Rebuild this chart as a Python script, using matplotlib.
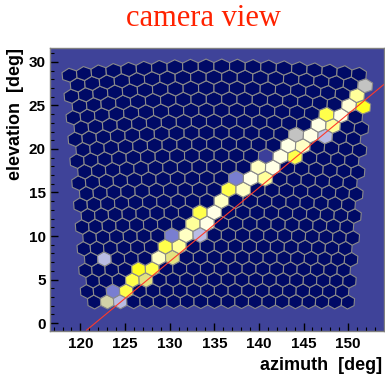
import numpy as np
import matplotlib
matplotlib.use('Agg')
import matplotlib.pyplot as plt
from matplotlib.collections import PolyCollection
from matplotlib.colors import LinearSegmentedColormap
from matplotlib.ticker import MultipleLocator

# camera layout (hexagonal pixels in the tangent plane)
cam_az0, cam_el0 = 135.4, 16.0
pitch_u = 1.57      # spacing along a row (deg)
row_step = 1.31     # spacing between rows (deg)
n_rows, n_cols = 22, 20

# lit pixels: position (deg) and colour level 0..1
hit_az = [151.9, 150.6, 151.7, 149.7, 147.2, 148.7, 148.0, 146.5, 143.9, 147.1,
          145.4, 144.6, 143.1, 143.7, 142.0, 140.5, 141.5, 139.8, 140.3, 138.7,
          137.4, 136.4, 138.3, 135.3, 133.4, 134.7, 133.1, 134.2, 131.9, 133.4,
          130.4, 129.7, 131.2, 129.0, 130.4, 122.8, 126.5, 128.2, 125.8, 127.5,
          125.2, 123.5, 122.8, 124.5]
hit_el = [27.2, 26.0, 24.7, 24.9, 23.9, 23.9, 22.6, 22.6, 21.4, 21.2,
          21.4, 20.3, 20.3, 18.9, 19.1, 19.1, 17.8, 17.8, 16.6, 16.6,
          16.6, 15.5, 15.5, 13.8, 12.6, 12.6, 11.5, 11.5, 10.3, 10.1,
          10.1, 8.8, 8.8, 7.4, 7.4, 7.4, 6.1, 6.1, 4.9, 4.9,
          3.6, 3.6, 2.3, 2.3]
hit_val = [0.50, 0.85, 0.70, 0.95, 0.75, 0.98, 0.85, 0.98, 0.50, 0.42,
           0.98, 0.92, 0.98, 0.75, 0.98, 0.15, 0.98, 0.92, 0.85, 0.98,
           0.30, 0.75, 0.92, 0.92, 0.75, 0.98, 0.85, 0.98, 0.92, 0.42,
           0.30, 0.75, 0.85, 0.92, 0.62, 0.42, 0.70, 0.75, 0.75, 0.62,
           0.75, 0.30, 0.56, 0.42]

# fitted track
line_az = [120.7, 154.0]
line_el = [-0.8, 27.4]


def to_sky(u, v):
    """tangent plane offsets (deg) -> azimuth, elevation (deg)"""
    a0, e0 = np.radians(cam_az0), np.radians(cam_el0)
    c = np.array([np.cos(e0) * np.cos(a0), np.cos(e0) * np.sin(a0), np.sin(e0)])
    east = np.array([-np.sin(a0), np.cos(a0), 0.0])
    north = np.array([-np.sin(e0) * np.cos(a0), -np.sin(e0) * np.sin(a0), np.cos(e0)])
    x, y = np.radians(u), np.radians(v)
    d = c[:, None] + east[:, None] * x.ravel() + north[:, None] * y.ravel()
    d /= np.linalg.norm(d, axis=0)
    az = np.degrees(np.arctan2(d[1], d[0])).reshape(np.shape(u))
    el = np.degrees(np.arcsin(d[2])).reshape(np.shape(u))
    return az, el


r_u = pitch_u / np.sqrt(3)
r_v = row_step / 1.5
ang = np.radians(90 + 60 * np.arange(6))

cu, cv = [], []
for j in range(n_rows):
    off = pitch_u / 4 if j % 2 == 0 else -pitch_u / 4
    for i in range(n_cols):
        cu.append((i - (n_cols - 1) / 2) * pitch_u + off)
        cv.append((j - (n_rows - 1) / 2) * row_step)
cu, cv = np.array(cu), np.array(cv)

vu = cu[:, None] + r_u * np.cos(ang)[None, :]
vv = cv[:, None] + r_v * np.sin(ang)[None, :]
vaz, vel = to_sky(vu, vv)
caz, cel = to_sky(cu, cv)

values = np.zeros(len(cu))
for a, e, val in zip(hit_az, hit_el, hit_val):
    k = np.argmin((caz - a) ** 2 + (cel - e) ** 2)
    values[k] = val

cmap = LinearSegmentedColormap.from_list('cam', [
    (0.0, '#000a66'), (0.15, '#3c3f9a'), (0.30, '#7a7fd2'), (0.42, '#b9bce3'),
    (0.50, '#c3c3c3'), (0.60, '#dcdb96'), (0.70, '#ffff20'), (0.85, '#ffff99'),
    (1.0, '#fffff0')])

fig = plt.figure(figsize=(3.85, 3.77), dpi=100)
ax = fig.add_axes([0.130, 0.122, 0.867, 0.751])
ax.set_facecolor('#3f4399')

polys = np.stack([vaz, vel], axis=-1)
pc = PolyCollection(polys, array=values, cmap=cmap, edgecolors='#8a8a8a', linewidths=0.8)
pc.set_clim(0, 1)
ax.add_collection(pc)

ax.plot(line_az, line_el, color='#ff3a2a', lw=0.8)

ax.set_xlim(116.6, 154.0)
ax.set_ylim(-0.9, 31.6)

ax.xaxis.set_major_locator(MultipleLocator(5))
ax.xaxis.set_minor_locator(MultipleLocator(1))
ax.yaxis.set_major_locator(MultipleLocator(5))
ax.yaxis.set_minor_locator(MultipleLocator(1))
ax.tick_params(which='both', direction='in', color='black')
ax.tick_params(which='major', length=6, width=1.0)
ax.tick_params(which='minor', length=3, width=0.8)
ax.tick_params(axis='x', pad=4)
ax.tick_params(axis='y', pad=3)
for lab in ax.get_xticklabels() + ax.get_yticklabels():
    lab.set_fontfamily('Liberation Sans')
    lab.set_fontweight('bold')
    lab.set_fontsize(11)
for sp in ax.spines.values():
    sp.set_color('#808080')
    sp.set_linewidth(1.0)

ax.set_xlabel('azimuth  [deg]', loc='right', fontfamily='Liberation Sans',
              fontweight='bold', fontsize=13)
ax.xaxis.set_label_coords(0.995, -0.093)
ax.set_ylabel('elevation  [deg]', loc='top', fontfamily='Liberation Sans',
              fontweight='bold', fontsize=13)
ax.yaxis.set_label_coords(-0.077, 1.0)

fig.text(0.528, 0.950, 'camera view', color='#ff2200', fontfamily='Liberation Serif',
         fontsize=22, ha='center', va='center')

fig.savefig('out.png', dpi=100)
